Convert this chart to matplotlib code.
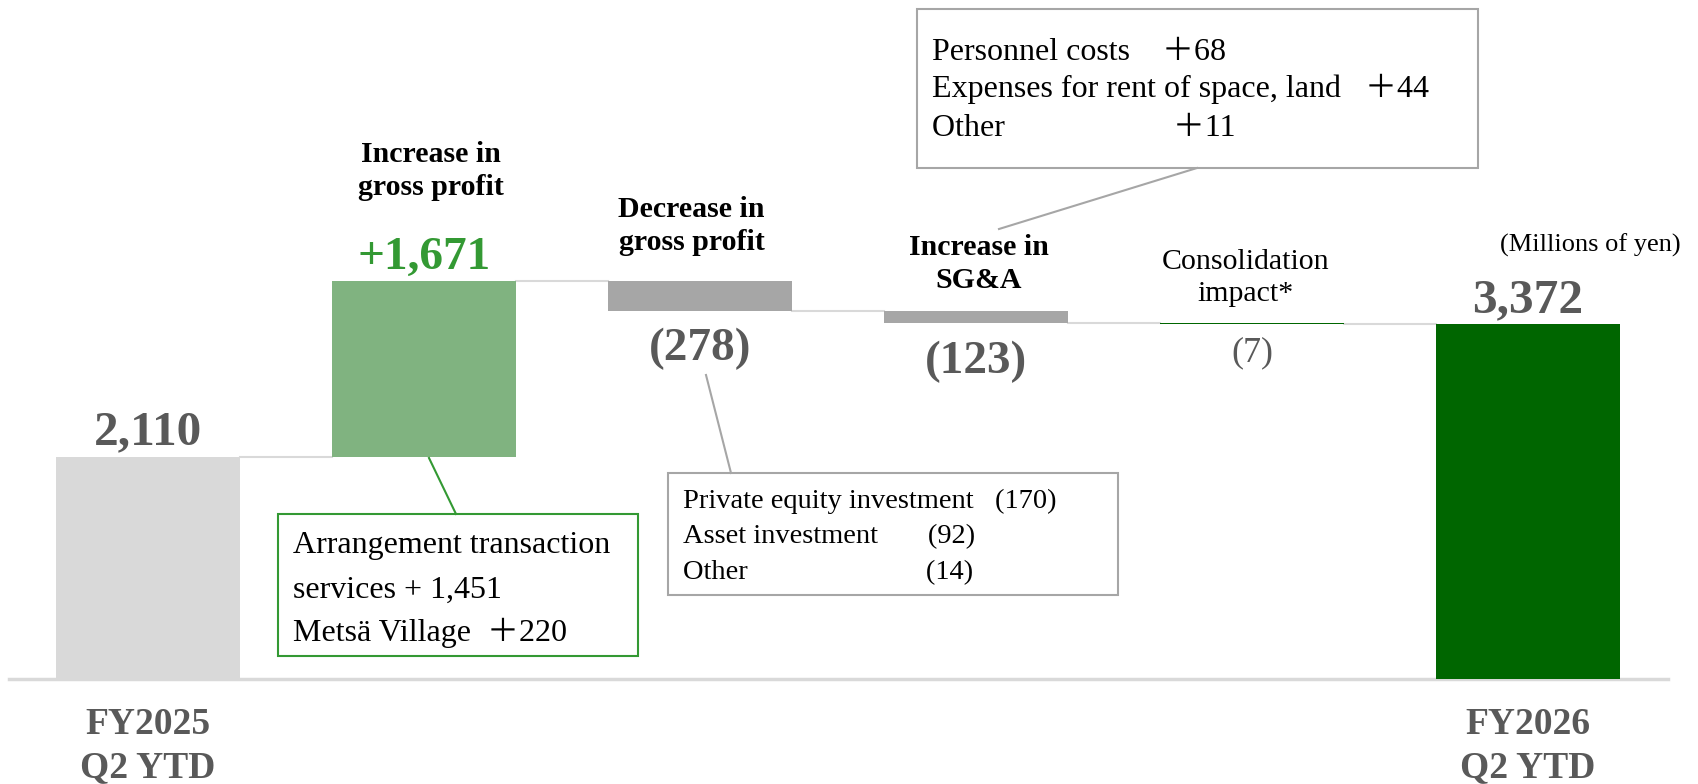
import matplotlib.pyplot as plt
import numpy as np
from matplotlib.patches import Rectangle
from matplotlib.lines import Line2D

plt.rcParams['font.family'] = ['Liberation Serif', 'Noto Sans CJK JP']

# データ
steps = ['FY2025\nQ2 YTD', 'Increase in\ngross profit', 'Decrease in\ngross profit',
         'Increase in\nSG&A', 'Consolidation\nimpact*', 'FY2026\nQ2 YTD']
values = [2110, 1671, -278, -123, -7, 3372]
value_labels = ['2,110', '+1,671', '(278)', '(123)', '(7)', '3,372']
bar_colors = ['#d9d9d9', '#80b380', '#a6a6a6', '#a6a6a6', '#006600', '#006600']

gp_up_items = ['Arrangement transaction', 'services + 1,451', 'Metsä Village  ＋220']
gp_down_items = ['Private equity investment   (170)', 'Asset investment       (92)', 'Other                         (14)']
sga_items = ['Personnel costs    ＋68', 'Expenses for rent of space, land   ＋44', 'Other                     ＋11']
unit_text = '(Millions of yen)'

W, H = 1698, 784
GRAY_TXT = '#595959'
GREEN_TXT = '#339933'


def fx(px):
    return px / W


def fy(py):
    return 1 - py / H


# 滝グラフの計算
cum = np.cumsum(values[:-1])
bottoms, heights = [], []
for i, v in enumerate(values):
    if i == 0 or i == len(values) - 1:
        bottoms.append(0)
        heights.append(v)
    else:
        bottoms.append(min(cum[i - 1], cum[i]))
        heights.append(abs(v))
bottoms = np.array(bottoms)
heights = np.array(heights)
tops = bottoms + heights
x = np.arange(len(values))
bw = 0.667

fig = plt.figure(figsize=(W / 100, H / 100), dpi=100)
ax = fig.add_axes([0, 0, 1, 1])
ax.set_xlim(-0.536, 5.616)
ax.set_ylim(-998, 6455)
ax.axis('off')

ax.bar(x, heights, bottom=bottoms, width=bw, color=bar_colors, zorder=2)

# 接続線
for i in range(len(values) - 1):
    lvl = cum[i]
    ax.plot([x[i] + bw / 2, x[i + 1] - bw / 2], [lvl, lvl], color='#d9d9d9', lw=1.5, zorder=1)

# 基準線
ax.plot([-0.504, 5.507], [0, 0], color='#d9d9d9', lw=2.5, zorder=1)

# 数値ラベル
for i in [0, 1, 5]:
    col = GREEN_TXT if i == 1 else GRAY_TXT
    fs = 34 if i == 1 else 35.5
    ax.annotate(value_labels[i], (x[i], tops[i]), xytext=(0, 9), textcoords='offset points',
                ha='center', va='baseline', fontsize=fs, fontweight='bold', color=col)
for i in [2, 3]:
    ax.annotate(value_labels[i], (x[i], bottoms[i]), xytext=(0, -36), textcoords='offset points',
                ha='center', va='baseline', fontsize=34, fontweight='bold', color=GRAY_TXT)
ax.annotate(value_labels[4], (x[4], bottoms[4]), xytext=(0, -27), textcoords='offset points',
            ha='center', va='baseline', fontsize=26, color=GRAY_TXT)

# 項目ラベル (x方向のずれ, y方向のずれ)
cat_off = {1: (5, 58), 2: (-6, 18), 3: (2, 12), 4: (-4.5, 12)}
for i, (dx, dy) in cat_off.items():
    ax.annotate(steps[i], (x[i], tops[i]), xytext=(dx, dy), textcoords='offset points',
                ha='center', va='bottom', fontsize=21.5, linespacing=1.28,
                fontweight='normal' if i == 4 else 'bold', color='black')
for i in [0, 5]:
    ax.annotate(steps[i], (x[i], 0), xytext=(0, -20), textcoords='offset points',
                ha='center', va='top', fontsize=27, fontweight='bold', color=GRAY_TXT,
                linespacing=1.3)

fig.text(fx(1590), fy(245), unit_text, ha='center', va='center', fontsize=19)


# 注釈ボックス
def note_box(x0, y0, x1, y1, lines, line_y, tx, edge, fs):
    fig.patches.append(Rectangle((fx(x0), fy(y1)), fx(x1) - fx(x0), fy(y0) - fy(y1),
                                 transform=fig.transFigure, fill=False, edgecolor=edge, lw=1.5))
    for s, py in zip(lines, line_y):
        fig.text(fx(tx), fy(py), s, ha='left', va='center', fontsize=fs, color='black')


note_box(917, 9, 1478, 168, sga_items, [52, 89, 129], 932, '#a6a6a6', 23)
note_box(668, 473, 1118, 595, gp_down_items, [501, 537, 573], 683, '#a6a6a6', 20.5)
note_box(278, 514, 638, 656, gp_up_items, [545, 590, 633], 293, GREEN_TXT, 23)

fig.lines.append(Line2D([fx(1197), fx(999)], [fy(168), fy(229)], transform=fig.transFigure,
                        color='#a6a6a6', lw=1.5))
fig.lines.append(Line2D([fx(706), fx(731)], [fy(375), fy(473)], transform=fig.transFigure,
                        color='#a6a6a6', lw=1.5))
fig.lines.append(Line2D([fx(429), fx(456)], [fy(458), fy(514)], transform=fig.transFigure,
                        color=GREEN_TXT, lw=1.5))

fig.savefig('out.png', dpi=100)
